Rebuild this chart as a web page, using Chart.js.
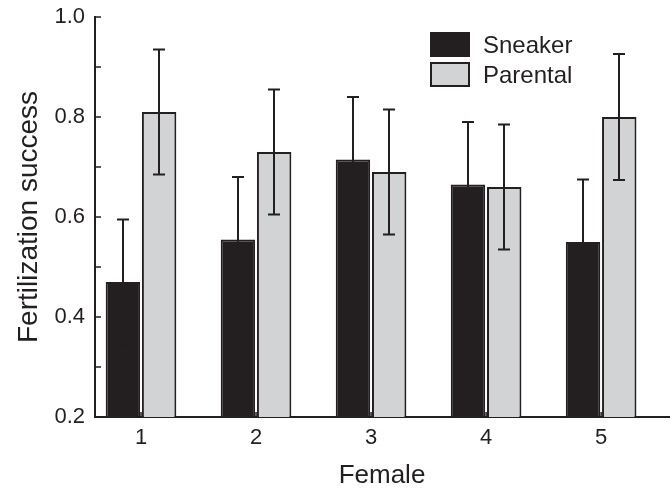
<!DOCTYPE html>
<html>
<head>
<meta charset="utf-8">
<title>Fertilization success</title>
<script src="https://cdn.jsdelivr.net/npm/chart.js@4.4.1/dist/chart.umd.min.js"></script>
<style>
  body { margin: 0; background: #fff; }
  #wrap { width: 671px; height: 489px; }
</style>
</head>
<body>
<div id="wrap"><canvas id="fertChart" width="671" height="489"></canvas></div>
<script>
const females = [1, 2, 3, 4, 5];
const sneaker = [0.47, 0.555, 0.715, 0.665, 0.55];
const sneakerErr = [0.125, 0.125, 0.125, 0.125, 0.125];
const parental = [0.81, 0.73, 0.69, 0.66, 0.80];
const parentalErr = [0.125, 0.125, 0.125, 0.125, 0.126];
const yLabelTicks = [0.2, 0.4, 0.6, 0.8, 1.0];
const yMarkTicks = [0.2, 0.3, 0.4, 0.5, 0.6, 0.7, 0.8, 0.9, 1.0];

const ink = '#231f20';
const grey = '#d1d3d4';
const fontFamily = '"Liberation Sans", Arial, Helvetica, sans-serif';

function toPoints(values) {
    return values.map(function(v, i) { return { x: females[i], y: v }; });
}

// whiskers with caps, centred on each bar
const errorBars = {
    id: 'errorBars',
    afterDatasetsDraw(chart) {
        const ctx = chart.ctx;
        const yScale = chart.scales.y;
        ctx.save();
        ctx.strokeStyle = ink;
        ctx.lineWidth = 2;
        chart.data.datasets.forEach(function(ds, i) {
            const meta = chart.getDatasetMeta(i);
            meta.data.forEach(function(bar, j) {
                const v = ds.data[j].y;
                const e = ds.errors[j];
                const top = yScale.getPixelForValue(v + e);
                const bottom = yScale.getPixelForValue(v - e);
                const x = Math.round(bar.x);
                ctx.beginPath();
                ctx.moveTo(x, top);
                ctx.lineTo(x, bottom);
                ctx.moveTo(x - 6, top);
                ctx.lineTo(x + 6, top);
                ctx.moveTo(x - 6, bottom);
                ctx.lineTo(x + 6, bottom);
                ctx.stroke();
            });
        });
        ctx.restore();
    }
};

// tick marks pointing into the plot
const innerTicks = {
    id: 'innerTicks',
    afterDraw(chart) {
        const { ctx, chartArea, scales } = chart;
        ctx.save();
        ctx.strokeStyle = ink;
        ctx.lineWidth = 1.5;
        ctx.beginPath();
        yMarkTicks.forEach(function(v) {
            const py = scales.y.getPixelForValue(v);
            ctx.moveTo(chartArea.left, py);
            ctx.lineTo(chartArea.left + 6, py);
        });
        females.forEach(function(v) {
            const px = scales.x.getPixelForValue(v);
            ctx.moveTo(px, chartArea.bottom);
            ctx.lineTo(px, chartArea.bottom - 5);
        });
        ctx.stroke();
        ctx.restore();
    }
};

// legend box inside the plot, top right
const boxLegend = {
    id: 'boxLegend',
    afterDraw(chart) {
        const { ctx, chartArea } = chart;
        const x = chartArea.left + 335;
        const y0 = chartArea.top + 15;
        ctx.save();
        ctx.font = '24px ' + fontFamily;
        ctx.textBaseline = 'middle';
        chart.data.datasets.forEach(function(ds, i) {
            const y = y0 + i * 30;
            ctx.fillStyle = ds.backgroundColor;
            ctx.fillRect(x, y, 40, 25);
            ctx.strokeStyle = ink;
            ctx.lineWidth = 2;
            ctx.strokeRect(x + 1, y + 1, 38, 23);
            ctx.fillStyle = ink;
            ctx.fillText(ds.label, x + 53, y + 14);
        });
        ctx.restore();
    }
};

new Chart(document.getElementById('fertChart'), {
    type: 'bar',
    data: {
        datasets: [{
            label: 'Sneaker',
            data: toPoints(sneaker),
            errors: sneakerErr,
            backgroundColor: ink,
            borderColor: ink,
            borderWidth: 2,
            borderSkipped: false,
            categoryPercentage: 0.63,
            barPercentage: 0.95
        }, {
            label: 'Parental',
            data: toPoints(parental),
            errors: parentalErr,
            backgroundColor: grey,
            borderColor: ink,
            borderWidth: 2,
            borderSkipped: false,
            categoryPercentage: 0.63,
            barPercentage: 0.95
        }]
    },
    options: {
        responsive: false,
        animation: false,
        layout: { padding: { top: 17, right: 2, left: 0, bottom: 0 } },
        plugins: {
            legend: { display: false },
            tooltip: { enabled: false }
        },
        scales: {
            x: {
                type: 'linear',
                min: 0.6,
                max: 5.59,
                offset: false,
                grid: { display: false },
                border: { display: true, color: ink, width: 2 },
                afterBuildTicks: function(scale) {
                    scale.ticks = females.map(function(v) { return { value: v }; });
                },
                afterFit: function(scale) { scale.height = 72; },
                ticks: {
                    color: ink,
                    padding: 0,
                    font: { family: fontFamily, size: 22 },
                    callback: function(v) { return String(v); }
                },
                title: {
                    display: true,
                    text: 'Female',
                    color: ink,
                    font: { family: fontFamily, size: 26, lineHeight: 1 },
                    padding: { top: 0, bottom: 0 }
                }
            },
            y: {
                min: 0.2,
                max: 1.0,
                grid: { display: false, drawTicks: false },
                border: { display: true, color: ink, width: 2 },
                afterBuildTicks: function(scale) {
                    scale.ticks = yLabelTicks.map(function(v) { return { value: v }; });
                },
                afterFit: function(scale) {
                    scale.width = 95;
                    scale.paddingTop = 0;
                },
                ticks: {
                    color: ink,
                    padding: 10,
                    font: { family: fontFamily, size: 22 },
                    callback: function(v) { return v.toFixed(1); }
                },
                title: {
                    display: true,
                    text: 'Fertilization success',
                    color: ink,
                    font: { family: fontFamily, size: 28, lineHeight: 1 },
                    padding: { top: 15, bottom: 0 }
                }
            }
        }
    },
    plugins: [errorBars, innerTicks, boxLegend]
});
</script>
</body>
</html>
